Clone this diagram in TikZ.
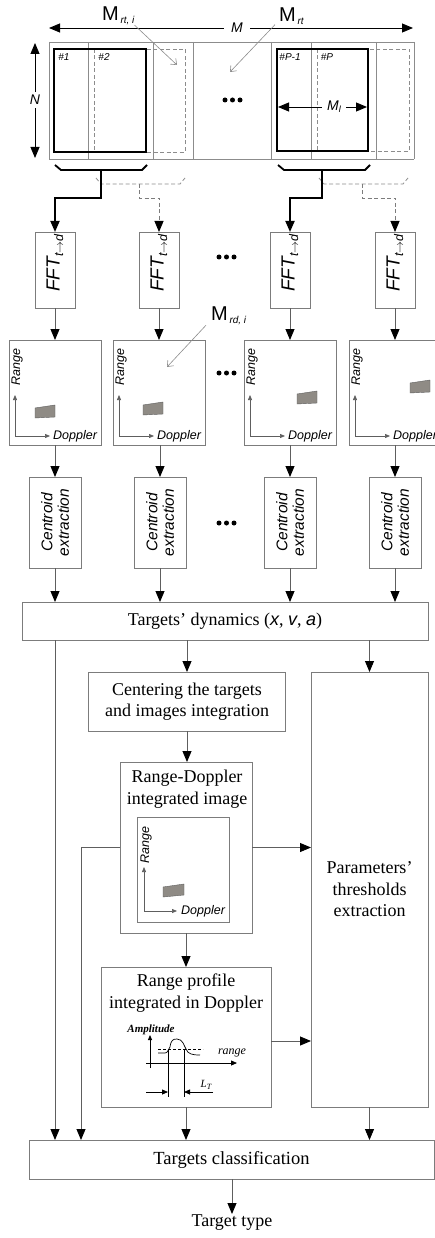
\documentclass[tikz,border=0pt]{standalone}
\usepackage{fontspec}
\usepackage{graphicx}
\setmainfont{Liberation Serif}
\setsansfont{Liberation Sans}
\usetikzlibrary{arrows.meta}
\definecolor{edge}{HTML}{7C7C7C}
\definecolor{wire}{HTML}{5E5E5E}
\definecolor{gridc}{HTML}{8C8C8C}
\definecolor{blob}{HTML}{8F8B85}
\newcommand{\fsz}[2]{\fontsize{#1}{#2}\selectfont}
\begin{document}
\begin{tikzpicture}[x=1pt,y=-1pt,
  box/.style={draw=edge, line width=0.9pt, fill=white, inner sep=0pt, outer sep=0pt},
  bigtip/.style={-{Triangle[width=9pt,length=11pt,black]}},
  flow/.style={draw=wire, line width=0.9pt, bigtip},
  feed/.style={draw=black, line width=1.8pt, bigtip},
  dfeed/.style={draw=edge, line width=0.9pt, dash pattern=on 4pt off 2.5pt, bigtip},
  twin/.style={draw=black, line width=0.9pt, {Triangle[width=9pt,length=11pt]}-{Triangle[width=9pt,length=11pt]}},
  axis/.style={draw=wire, line width=0.7pt, -{Triangle[width=4pt,length=5pt]}},
  lab/.style={font=\sffamily\itshape\fsz{12.5}{12.5}, inner sep=0pt},
  dot/.style={circle, fill=black, inner sep=0pt, minimum size=5pt},
  hint/.style={draw=gridc, line width=0.6pt, -{Straight Barb[length=5pt,width=8pt]}},
  gridline/.style={draw=gridc, line width=0.7pt},
  frame/.style={draw=black, line width=1.8pt},
  dframe/.style={draw=gridc, line width=0.8pt, dash pattern=on 4pt off 2.5pt},
  tag/.style={font=\sffamily\itshape\fsz{10}{10}, inner sep=0pt},
  serif/.style={font=\fsz{18}{21.5}, align=center}
]
\useasboundingbox (0,0) rectangle (435,1238);

% ---------- range-time matrix ----------
\draw[gridline] (49,42) -- (414,42) (49,159) -- (414,159);
\foreach \xv in {49,88,153,193,271,311,376,414}
  \draw[gridline] (\xv,42) -- (\xv,159);
\draw[dframe] (94,49) rectangle (185,152);
\draw[frame] (54,49) rectangle (146,152);
\draw[dframe] (317,49) rectangle (409,151);
\draw[frame] (277,49) rectangle (368,151);
\node[tag] at (64,57) {\#1};
\node[tag] at (104,57) {\#2};
\node[tag] at (290,57) {\#P-1};
\node[tag] at (327,57) {\#P};
\foreach \xv in {225,232.5,240} \node[dot] at (\xv,100) {};

% dimension arrows
\node[font=\sffamily\itshape\fsz{14}{14}, inner sep=0pt, minimum width=26pt] (mlab) at (237,28) {M};
\coordinate (mL) at (49,28);
\coordinate (mR) at (413,28);
\draw[twin, -{Triangle[width=9pt,length=11pt]}] (mlab.west) -- (mL);
\draw[twin, -{Triangle[width=9pt,length=11pt]}] (mlab.east) -- (mR);
\node[font=\sffamily\itshape\fsz{14}{14}, inner sep=0pt, minimum height=16pt] (nlab) at (35,100) {N};
\coordinate (nT) at (35,43);
\coordinate (nB) at (35,158);
\draw[twin, -{Triangle[width=9pt,length=11pt]}] (nlab.north) -- (nT);
\draw[twin, -{Triangle[width=9pt,length=11pt]}] (nlab.south) -- (nB);
\node[font=\sffamily\itshape\fsz{14}{14}, inner sep=0pt, minimum width=24pt] (mllab) at (334,107) {M\raisebox{-2pt}{\fsz{9}{9}l}};
\coordinate (mlL) at (278,107);
\coordinate (mlR) at (367,107);
\draw[twin, -{Triangle[width=9pt,length=11pt]}] (mllab.west) -- (mlL);
\draw[twin, -{Triangle[width=9pt,length=11pt]}] (mllab.east) -- (mlR);

% matrix annotations
\node[anchor=west, inner sep=0pt] (mrti) at (102,16) {\sffamily\fsz{20}{20}M\raisebox{-3pt}{\itshape\fsz{10}{10}\,rt, i}};
\coordinate (mrtiT) at (177,65);
\draw[hint] (mrti.south east) -- (mrtiT);
\node[anchor=west, inner sep=0pt] (mrt) at (279,16) {\sffamily\fsz{20}{20}M\raisebox{-3pt}{\itshape\fsz{10}{10}\,rt}};
\coordinate (mrtT) at (230,72);
\draw[hint] ([xshift=-4pt]mrt.south west) -- (mrtT);

% ---------- FFT stage ----------
\foreach \n/\cx in {1/55,2/159,3/290,4/395}{
  \node[box, minimum width=40pt, minimum height=76pt] (fft\n) at (\cx,270) {};
  \node[rotate=90, inner sep=0pt, font=\sffamily\itshape] at (\cx,263)
    {\fsz{19}{19}FFT\raisebox{-3.5pt}{\fsz{12.5}{12.5}t\ensuremath{\to}d}};
}
\foreach \xv in {219,226.5,234} \node[dot] at (\xv,257) {};

% segment brackets feeding the FFTs
\draw[frame] (55,165) -- (61,170) -- (142,170) -- (147,165);
\draw[frame] (278,165) -- (284,170) -- (365,170) -- (370,165);
\draw[dframe] (96,178) -- (101,184) -- (180,184) -- (185,178);
\draw[dframe] (319,178) -- (324,184) -- (403,184) -- (408,178);
\coordinate (s1) at (101,170); \coordinate (k1) at (101,198);
\coordinate (s2) at (139,184); \coordinate (k2) at (139,198);
\coordinate (s3) at (322,170); \coordinate (k3) at (322,198);
\coordinate (s4) at (362,184); \coordinate (k4) at (362,198);
\draw[feed] (s1) -- (k1) -| (fft1.north);
\draw[dfeed] (s2) -- (k2) -| (fft2.north);
\draw[feed] (s3) -- (k3) -| (fft3.north);
\draw[dfeed] (s4) -- (k4) -| (fft4.north);

% ---------- range-Doppler maps ----------
\foreach \n/\cx/\tx/\ty in {1/55/26/27,2/159/30/30,3/290/53/41,4/395/61/52}{
  \node[box, minimum width=92pt, minimum height=105pt] (rd\n) at (\cx,392.5) {};
  \pgfmathsetmacro\L{\cx-46}
  \draw[axis] ({\L+6},436) -- ({\L+6},395);
  \draw[axis] ({\L+6},436) -- ({\L+41},436);
  \node[lab, rotate=90] at ({\L+8},367) {Range};
  \node[lab, anchor=west] at ({\L+44},436) {Doppler};
  \filldraw[fill=blob, draw=wire, line width=0.4pt] ({\L+\tx},{445-\ty}) -- ++(0,-10) -- ++(20,-3) -- ++(0,12) -- cycle;
  \draw[flow] (fft\n.south) -- (rd\n.north);
}
\foreach \xv in {219,226.5,234} \node[dot] at (\xv,373) {};
\node[anchor=west, inner sep=0pt] (mrdi) at (211,316) {\sffamily\fsz{20}{20}M\raisebox{-3pt}{\itshape\fsz{10}{10}\,rd, i}};
\coordinate (mrdiT) at (167,367);
\draw[hint] ([xshift=-5pt]mrdi.south west) -- (mrdiT);

% ---------- centroid extraction ----------
\node[box, minimum width=406pt, minimum height=38pt, font=\fsz{18}{20}] (dyn) at (225,621)
  {Targets’ dynamics ({\sffamily\itshape x}, {\sffamily\itshape v}, {\sffamily\itshape a})};
\foreach \n/\cx in {1/55,2/160,3/290,4/395}{
  \node[box, minimum width=52pt, minimum height=91pt] (cen\n) at (\cx,522.5) {};
  \node[rotate=90, align=center, inner sep=0pt, font=\sffamily\itshape\fsz{15.5}{16.5}] at (cen\n.center) {Centroid\\extraction};
  \draw[flow] (rd\n.south -| cen\n.north) -- (cen\n.north);
  \draw[flow] (cen\n.south) -- (cen\n.south |- dyn.north);
}
\foreach \xv in {219,226.5,234} \node[dot] at (\xv,523) {};

% ---------- integration and classification ----------
\node[box, serif, minimum width=197pt, minimum height=59pt] (ctr) at (187,701.5)
  {Centering the targets\\and images integration};
\node[box, minimum width=117pt, minimum height=435pt] (par) at (369.5,889.5) {};
\node[serif] at (par.center) {Parameters’\\thresholds\\extraction};
\node[box, minimum width=132pt, minimum height=171pt] (rdi) at (186,847.5) {};
\node[serif, inner sep=0pt] at (187,789) {Range-Doppler\\integrated image};
\draw[draw=edge, line width=0.9pt] (137,817) rectangle (229,922);
\draw[axis] (144,911) -- (144,867);
\draw[axis] (144,911) -- (177,911);
\node[lab, rotate=90] at (146,845) {Range};
\node[lab, anchor=west] at (181,911) {Doppler};
\filldraw[fill=blob, draw=wire, line width=0.4pt] (163,897) -- ++(0,-10) -- ++(21,-3) -- ++(0,11) -- cycle;

\node[box, minimum width=170pt, minimum height=140pt] (rp) at (186,1037) {};
\node[serif, inner sep=0pt] at (186,993) {Range profile\\integrated in Doppler};
% amplitude profile sketch
\draw[line width=0.8pt, -{Triangle[width=4pt,length=5pt]}] (150,1068) -- (150,1035);
\draw[line width=0.8pt, -{Triangle[width=5pt,length=6pt]}] (146,1063) -- (237,1063);
\draw[line width=0.6pt, dash pattern=on 3pt off 2pt] (158,1049) -- (203,1049);
\draw[line width=0.7pt] (158,1053) -- (165,1053) .. controls (168,1053) and (168,1049) .. (170,1047)
  .. controls (171,1040) and (173,1039) .. (177,1039) .. controls (183,1039) and (184,1046) .. (186,1049)
  .. controls (188,1054) and (192,1055) .. (200,1055);
\draw[line width=0.7pt] (168,1049) -- (168,1097) (184,1049) -- (184,1097);
\draw[line width=0.8pt, -{Triangle[width=5pt,length=6pt]}] (146,1092) -- (168,1092);
\draw[line width=0.8pt, -{Triangle[width=5pt,length=6pt]}] (213,1092) -- (184,1092);
\node[inner sep=0pt, font=\itshape\bfseries\fsz{11}{11}] at (151,1030) {Amplitude};
\node[inner sep=0pt, font=\itshape\fsz{12}{12}] at (232,1053) {range};
\node[inner sep=0pt, font=\itshape\fsz{11}{11}] at (206,1085) {L\raisebox{-1.5pt}{\fsz{8}{8}T}};

\node[box, minimum width=405pt, minimum height=39pt, font=\fsz{18.5}{20}] (cls) at (231.5,1159.5) {Targets classification};
\node[anchor=north, inner sep=0pt, font=\fsz{18}{20}] (type) at (232,1214) {Target type};

\coordinate (lx1) at (55,640);
\coordinate (lx2) at (81,1000);
\draw[flow] (dyn.south -| ctr.north) -- (ctr.north);
\draw[flow] (dyn.south -| par.north) -- (par.north);
\draw[flow] (lx1) -- (lx1 |- cls.north);
\draw[flow] (ctr.south) -- (ctr.south |- rdi.north);
\draw[flow] (rdi.south) -- (rdi.south |- rp.north);
\draw[flow] (rdi.east) -- (rdi.east -| par.west);
\draw[flow] (rdi.west) -| (lx2 |- cls.north);
\draw[flow] ([yshift=-4pt]rp.east) -- ([yshift=-4pt]rp.east -| par.west);
\draw[flow] (rp.south) -- (rp.south |- cls.north);
\draw[flow] (par.south) -- (par.south |- cls.north);
\draw[flow] (cls.south -| type.north) -- (type.north);
\end{tikzpicture}
\end{document}
